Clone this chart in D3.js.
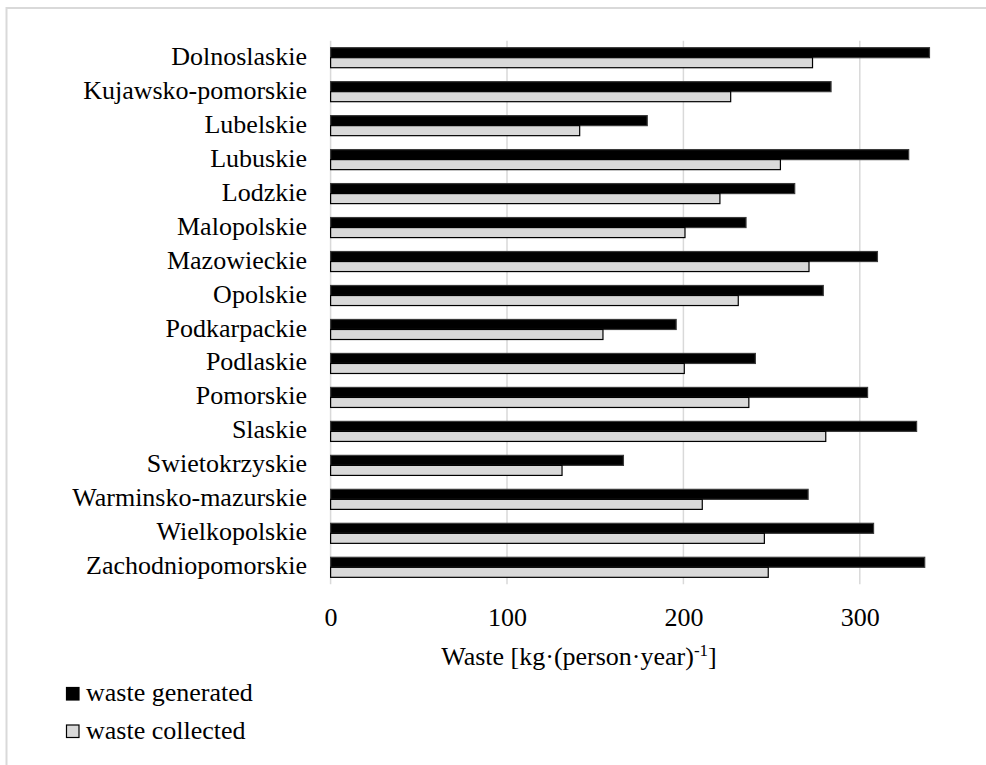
<!DOCTYPE html>
<html>
<head>
<meta charset="utf-8">
<script src="https://cdn.jsdelivr.net/npm/d3@7"></script>
<style>
    body { margin: 0; background: #fff; }
    text { font-family: "Liberation Serif", "Times New Roman", serif; fill: #000; }
</style>
</head>
<body>
<svg id="barSVG" width="986" height="765"></svg>
<script>
//////////////////// DATA ////////////////////
const regions = ["Dolnoslaskie", "Kujawsko-pomorskie", "Lubelskie", "Lubuskie", "Lodzkie",
    "Malopolskie", "Mazowieckie", "Opolskie", "Podkarpackie", "Podlaskie", "Pomorskie",
    "Slaskie", "Swietokrzyskie", "Warminsko-mazurskie", "Wielkopolskie", "Zachodniopomorskie"];

const wasteGenerated = [339.5, 283.7, 179.5, 327.7, 263.1, 235.5, 310.0, 279.3, 195.9, 240.8,
    304.4, 332.2, 166.0, 270.7, 307.8, 336.8];

const wasteCollected = [273.2, 226.8, 141.2, 255.0, 220.7, 200.9, 271.2, 231.1, 154.4, 200.5,
    237.1, 280.7, 131.2, 210.7, 245.9, 248.1];

const seriesNames = ["waste generated", "waste collected"];
const xTicks = [0, 100, 200, 300];


//////////////////// HANDLE SIZES ////////////////////
const barSVG = d3.select("#barSVG");

const plot = {
    left: 330.6,
    right: 948,
    top: 40.7,
    bottom: 584.3
};

const colors = {
    generated: "#000000",
    collected: "#d9d9d9",
    grid: "#d9d9d9"
};


//////////////////// INITIALIZE SCALERS ////////////////////
const scaleWaste = d3.scaleLinear()
    .domain([0, 350])
    .range([plot.left, plot.right]);

const scaleRegion = d3.scaleBand()
    .domain(regions)
    .range([plot.top, plot.bottom])
    .paddingInner(0.41)
    .paddingOuter(0.205);

const scaleSeries = d3.scaleBand()
    .domain(seriesNames)
    .range([0, scaleRegion.bandwidth()]);

// rows for the bars
const rows = regions.map((r, i) => ({
    region: r,
    values: [
        {series: seriesNames[0], value: wasteGenerated[i]},
        {series: seriesNames[1], value: wasteCollected[i]}
    ]
}));


//////////////////// OUTER BORDER ////////////////////
barSVG.append("rect")
    .attr("x", 0).attr("y", 0)
    .attr("width", 986).attr("height", 765)
    .attr("fill", "#fff");

barSVG.append("rect")
    .attr("x", 6.5).attr("y", 8)
    .attr("width", 1000).attr("height", 800)
    .attr("fill", "none")
    .attr("stroke", colors.grid)
    .attr("stroke-width", 2);


//////////////////// GRID + AXIS ////////////////////
barSVG.append("g")
    .selectAll("line")
    .data(xTicks)
    .join("line")
    .attr("x1", d => scaleWaste(d))
    .attr("x2", d => scaleWaste(d))
    .attr("y1", plot.top)
    .attr("y2", plot.bottom)
    .attr("stroke", colors.grid)
    .attr("stroke-width", 1.5);

const xAxis = d3.axisBottom(scaleWaste)
    .tickValues(xTicks)
    .tickSize(0)
    .tickPadding(0);

const xAxisGroup = barSVG.append("g")
    .attr("transform", `translate(0, ${plot.bottom})`)
    .call(xAxis);

xAxisGroup.select(".domain").remove();
xAxisGroup.selectAll("text")
    .attr("y", 42)
    .attr("dy", 0)
    .style("font-size", "26px")
    .style("font-family", "'Liberation Serif', 'Times New Roman', serif")
    .attr("fill", "#000");

// axis title with superscript
const xLabel = barSVG.append("text")
    .attr("x", 579)
    .attr("y", 665)
    .attr("text-anchor", "middle")
    .style("font-size", "26px");
xLabel.append("tspan").text("Waste [kg·(person·year)");
xLabel.append("tspan").attr("dy", -9).style("font-size", "17px").text("-1");
xLabel.append("tspan").attr("dy", 9).text("]");


//////////////////// CATEGORY LABELS ////////////////////
barSVG.append("g")
    .selectAll("text")
    .data(regions)
    .join("text")
    .attr("x", 307)
    .attr("y", d => scaleRegion(d) + scaleRegion.bandwidth() / 2)
    .attr("dy", "0.27em")
    .attr("text-anchor", "end")
    .style("font-size", "26px")
    .text(d => d);


//////////////////// DRAW BARS ////////////////////
const groups = barSVG.append("g")
    .selectAll("g")
    .data(rows)
    .join("g")
    .attr("transform", d => `translate(0, ${scaleRegion(d.region)})`);

groups.selectAll("rect")
    .data(d => d.values)
    .join("rect")
    .attr("x", scaleWaste(0))
    .attr("y", d => scaleSeries(d.series))
    .attr("width", d => scaleWaste(d.value) - scaleWaste(0))
    .attr("height", scaleSeries.bandwidth())
    .attr("fill", d => d.series === seriesNames[0] ? colors.generated : colors.collected)
    .attr("stroke", d => d.series === seriesNames[0] ? "#3a3a3a" : "#000")
    .attr("stroke-width", 1.2);


//////////////////// LEGEND ////////////////////
const legend = barSVG.append("g")
    .selectAll("g")
    .data(seriesNames)
    .join("g")
    .attr("transform", (d, i) => `translate(66, ${687 + i * 37.5})`);

legend.append("rect")
    .attr("x", 0.5).attr("y", 0.5)
    .attr("width", 12.5).attr("height", 12.5)
    .attr("fill", (d, i) => i === 0 ? colors.generated : colors.collected)
    .attr("stroke", "#000")
    .attr("stroke-width", 1.2);

legend.append("text")
    .attr("x", 20)
    .attr("y", 14)
    .style("font-size", "26px")
    .text(d => d);
</script>
</body>
</html>
